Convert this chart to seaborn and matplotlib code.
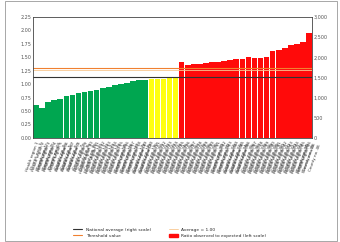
import matplotlib
matplotlib.use("Agg")
import matplotlib.pyplot as plt
import seaborn as sns
import pandas as pd
from matplotlib.lines import Line2D
from matplotlib.patches import Patch

green_vals = [0.62, 0.55, 0.66, 0.70, 0.72, 0.78, 0.80, 0.83, 0.85, 0.88,
              0.90, 0.92, 0.95, 0.98, 1.00, 1.02, 1.05, 1.07, 1.08]
yellow_vals = [1.09, 1.10, 1.10, 1.11, 1.12]
red_vals = [1.42, 1.36, 1.37, 1.38, 1.40, 1.41, 1.42, 1.43, 1.45, 1.46, 1.47,
            1.50, 1.48, 1.49, 1.50, 1.62, 1.64, 1.68, 1.72, 1.75, 1.78, 1.95]
groups = ["Below average"] * len(green_vals) + ["Average"] * len(yellow_vals) + ["Above average"] * len(red_vals)
values = green_vals + yellow_vals + red_vals
categories = [f"Health region {i+1}\nDistrict area {i+1}\nCounty no. {i+1}" for i in range(len(values))]
left_ticks = [0.00, 0.25, 0.50, 0.75, 1.00, 1.25, 1.50, 1.75, 2.00, 2.25]
right_ticks = [0, 500, 1000, 1500, 2000, 2500, 3000]
ref_line_dark = 1.13
ref_line_orange = 1.30
ref_line_light = 1.27

df = pd.DataFrame({"category": categories, "value": values, "group": groups})
palette = {"Below average": "#00a650", "Average": "#ffff10", "Above average": "#ff0a0a"}

sns.set_style("white")
fig = plt.figure(figsize=(3.4, 2.42), dpi=100)
ax = fig.add_axes([0.097, 0.43, 0.821, 0.50])
sns.barplot(data=df, x="category", y="value", hue="group", palette=palette,
            dodge=False, width=0.92, legend=False, ax=ax, linewidth=0, saturation=1)
ax.set_ylim(0, 2.25)
ax.set_yticks(left_ticks)
ax.set_yticklabels([f"{t:.2f}" for t in left_ticks], fontsize=3.5, color="#555555")
ax.set_xlabel("")
ax.set_ylabel("")
ax.tick_params(axis="x", labelsize=3.0, rotation=70, length=0, pad=2, colors="#333333")
for lbl in ax.get_xticklabels():
    lbl.set_ha("right")
    lbl.set_rotation_mode("anchor")
ax.tick_params(axis="y", length=0, pad=1)
ax.axhline(ref_line_dark, color="#333333", lw=0.8)
ax.axhline(ref_line_orange, color="#f08030", lw=0.8)
ax.axhline(ref_line_light, color="#f8c890", lw=0.6)
for s in ["top", "bottom", "left", "right"]:
    ax.spines[s].set_color("#444444")
    ax.spines[s].set_linewidth(0.6)

ax2 = ax.twinx()
ax2.set_ylim(0, 3000)
ax2.set_yticks(right_ticks)
ax2.set_yticklabels([f"{t:,}" for t in right_ticks], fontsize=3.5, color="#555555")
ax2.tick_params(axis="y", length=0, pad=1)
for s in ["top", "bottom", "left", "right"]:
    ax2.spines[s].set_visible(False)

handles = [Line2D([0], [0], color="#333333", lw=0.8),
           Line2D([0], [0], color="#f08030", lw=0.8),
           Line2D([0], [0], color="#f8c890", lw=0.6),
           Patch(color="#ff0a0a")]
labels = ["National average (right scale)", "Threshold value", "Average = 1.00",
          "Ratio observed to expected (left scale)"]
fig.legend(handles, labels, loc="lower center", ncol=2, fontsize=3.2,
           frameon=False, bbox_to_anchor=(0.5, 0.0), handlelength=2, columnspacing=4)

fig.add_artist(plt.Rectangle((0.015, 0.005), 0.975, 0.99, transform=fig.transFigure,
                             fill=False, ec="#999999", lw=0.6))
fig.savefig("out.png", dpi=100)
